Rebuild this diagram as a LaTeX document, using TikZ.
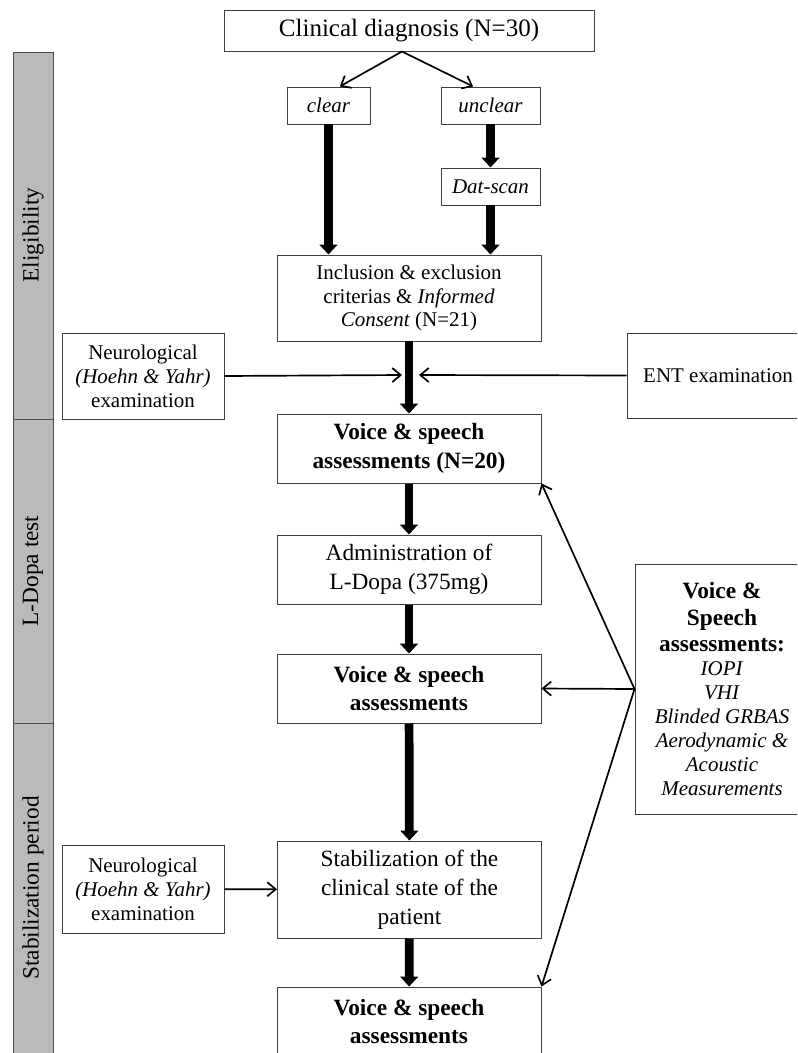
\documentclass[tikz,border=0pt]{standalone}
\usepackage{fontspec}
\setmainfont{Liberation Serif}
\usetikzlibrary{arrows.meta, positioning}

\begin{document}
\begin{tikzpicture}[x=0.025cm, y=-0.025cm, >={Straight Barb[length=6pt,width=10pt]}]
        % Styles for the boxes, the phase bars and the two kinds of arrows
        \tikzstyle{box} = [draw=black!75, line width=0.7pt, rectangle, align=center, inner sep=2pt, fill=white]
        \tikzstyle{txt} = [font=\fontsize{14.9}{17}\selectfont]
        \tikzstyle{bigtxt} = [font=\fontsize{16.6}{20.5}\selectfont]
        \tikzstyle{phase} = [draw=black!70, fill=black!27, line width=0.7pt]
        \tikzstyle{flow} = [->, line width=1.2pt]
        \tikzstyle{bigflow} = [-{Triangle[length=7pt,width=12.5pt]}, line width=6.2pt]
       \clip (0,0) rectangle (797,1053);
       % Phase bars on the left
       \draw[phase] (13,52) rectangle (53,419);
       \draw[phase] (13,419) rectangle (53,723);
       \draw[phase] (13,723) rectangle (53,1070);
       \node[bigtxt, rotate=90] (eligibility) at (33,235) {Eligibility}; % Phase 1
       \node[bigtxt, rotate=90] (ldopatest) at (33,571) {L-Dopa test}; % Phase 2
       \node[bigtxt, rotate=90] (stabperiod) at (33,888) {Stabilization period}; % Phase 3
       % Nodes
       \node[box, minimum width=370*0.025cm, minimum height=41*0.025cm, font=\fontsize{17.8}{20}\selectfont] (clinical) at (409,30.5) {Clinical diagnosis (N=30)}; % Start
       \node[box, txt, minimum width=83*0.025cm, minimum height=37*0.025cm] (clear) at (328.5,105.5) {\textit{clear}}; % Clear diagnosis
       \node[box, txt, minimum width=99*0.025cm, minimum height=37*0.025cm] (unclear) at (490.5,105.5) {\textit{unclear}}; % Unclear diagnosis
       \node[box, txt, minimum width=99*0.025cm, minimum height=37*0.025cm] (datscan) at (490.5,186.5) {\textit{Dat-scan}}; % Dat-scan
       \node[box, txt, minimum width=264*0.025cm, minimum height=86*0.025cm] (inclusion) at (409,298) {Inclusion \& exclusion\\criterias \& \textit{Informed}\\\textit{Consent} (N=21)}; % Inclusion
       \node[box, txt, minimum width=162*0.025cm, minimum height=86*0.025cm] (neuroA) at (143,376) {Neurological\\\textit{(Hoehn \& Yahr)}\\examination}; % Neurological exam 1
       \node[box, txt, minimum width=182*0.025cm, minimum height=85*0.025cm] (ent) at (718,375.5) {ENT examination}; % ENT exam
       \coordinate (joinL) at (402,375); % Left arrow end
       \coordinate (joinR) at (419,375); % Right arrow end
       \node[box, bigtxt, minimum width=264*0.025cm, minimum height=69*0.025cm] (voiceA) at (409,448.5) {\textbf{Voice \& speech}\\\textbf{assessments (N=20)}}; % Assessment 1
       \node[box, bigtxt, minimum width=264*0.025cm, minimum height=69*0.025cm] (admin) at (409,569.5) {Administration of\\L-Dopa (375mg)}; % L-Dopa
       \node[box, bigtxt, minimum width=264*0.025cm, minimum height=69*0.025cm] (voiceB) at (409,688.5) {\textbf{Voice \& speech}\\\textbf{assessments}}; % Assessment 2
       \node[box, bigtxt, minimum width=264*0.025cm, minimum height=97*0.025cm] (stab) at (409.5,889.5) {Stabilization of the\\clinical state of the\\patient}; % Stabilization
       \node[box, txt, minimum width=162*0.025cm, minimum height=88*0.025cm] (neuroB) at (143,889) {Neurological\\\textit{(Hoehn \& Yahr)}\\examination}; % Neurological exam 2
       \node[box, bigtxt, minimum width=264*0.025cm, minimum height=69*0.025cm] (voiceC) at (409,1021.5) {\textbf{Voice \& speech}\\\textbf{assessments}}; % Assessment 3
       \node[box, txt, minimum width=174*0.025cm, minimum height=250*0.025cm] (tools) at (722,689) {{\fontsize{16.6}{20}\selectfont\bfseries Voice \&}\\[2pt]{\fontsize{16.6}{20}\selectfont\bfseries Speech}\\[2pt]{\fontsize{16.6}{20}\selectfont\bfseries assessments:}\\\textit{IOPI}\\\textit{VHI}\\\textit{Blinded GRBAS}\\\textit{Aerodynamic \&}\\\textit{Acoustic}\\\textit{Measurements}}; % Assessment tools
       % Connections
       \draw[flow] ([xshift=-5pt]clinical.south) -- ([xshift=8pt]clear.north); % Clinical to clear
       \draw[flow] ([xshift=-5pt]clinical.south) -- ([xshift=-12.4pt]unclear.north); % Clinical to unclear
       \draw[bigflow] (clear.south) -- (clear.south |- inclusion.north); % Clear to inclusion
       \draw[bigflow] (unclear) -- (datscan); % Unclear to Dat-scan
       \draw[bigflow] (datscan.south) -- (datscan.south |- inclusion.north); % Dat-scan to inclusion
       \draw[bigflow] (inclusion) -- (voiceA); % Inclusion to assessment 1
       \draw[flow] (neuroA.east) -- (joinL); % Neurological exam
       \draw[flow] (ent.west) -- (joinR); % ENT exam
       \draw[bigflow] (voiceA) -- (admin); % Assessment 1 to L-Dopa
       \draw[bigflow] (admin) -- (voiceB); % L-Dopa to assessment 2
       \draw[bigflow] (voiceB) -- (stab); % Assessment 2 to stabilization
       \draw[bigflow] (stab) -- (voiceC); % Stabilization to assessment 3
       \draw[flow] (neuroB) -- (stab); % Neurological exam 2
       \draw[flow] (tools.west) -- (voiceA.south east); % Tools to assessment 1
       \draw[flow] (tools.west) -- (voiceB.east); % Tools to assessment 2
       \draw[flow] (tools.west) -- (voiceC.north east); % Tools to assessment 3
\end{tikzpicture}
\end{document}
